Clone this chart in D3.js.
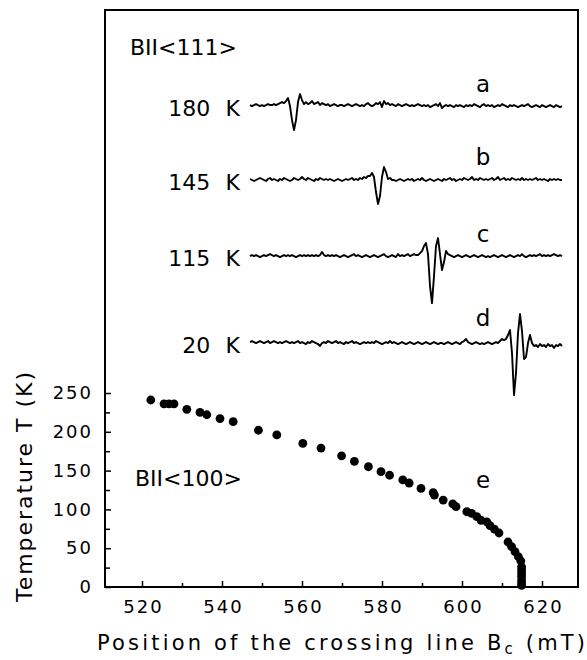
<!DOCTYPE html>
<html>
<head>
<meta charset="utf-8">
<script src="https://cdn.jsdelivr.net/npm/d3@7"></script>
<style>
  body { margin: 0; background: #fff; }
  text { font-family: "DejaVu Sans", sans-serif; fill: #000; }
</style>
</head>
<body>
<svg id="chart"></svg>
<script>
// Crossing line position Bc vs temperature (B || <100>)
const bcField = [522.2, 525.5, 526.75, 528, 531.2, 534.5, 536.2, 539.5, 542.8, 549.1,
    553.7, 560.2, 564.75, 569.9, 573.1, 576.6, 579.75, 581.9, 585.2, 586.8,
    589.75, 592.8, 593.1, 595.3, 597.7, 598.5, 601.2, 602.4, 603.7, 604.75,
    606.2, 607, 608.1, 609.25, 611.5, 612.4, 613.25, 614.1, 614.7, 614.9,
    614.9, 614.9, 614.9, 614.9, 614.9, 614.9];
const bcTemp = [241, 236, 236, 236, 229, 225, 222, 217, 213, 202,
    196, 185, 179, 169, 162, 155, 148.6, 144, 138, 134,
    127, 121.5, 118.5, 112, 107, 103.5, 97, 95, 90.6, 86,
    84, 79, 74.7, 69.6, 58, 52, 45.5, 39, 33.5, 26,
    22, 18, 14, 9, 5, 2];

// Spectra (B || <111>), signal in arb. units, sampled from 547 mT every 0.5 mT
const specStart = 547;
const specStep = 0.5;
const specTemps = ["180 K", "145 K", "115 K", "20 K"];
const specLetters = ["a", "b", "c", "d"];

const sigA = [1,0,1,2,1,0,1,0,1,2,1,1,2,1,2,3,4,3,
    5,8,0,-14,-24,-14,4,12,6,2,
    4,2,3,5,2,3,4,1,3,2,1,2,0,1,2,1,0,1,1,0,
    1,2,1,0,1,2,1,0,1,0,2,3,1,0,1,3,2,4,-1,5,
    2,3,1,2,1,0,2,1,0,1,2,1,0,1,0,1,2,1,0,1,
    0,1,-1,0,1,2,0,3,-2,0,1,0,1,0,-1,1,0,1,0,-1,
    1,0,1,0,2,1,0,-1,1,2,0,1,0,1,-1,0,1,0,2,1,
    0,-1,1,0,1,0,-1,0,1,0,1,2,0,-1,0,1,0,-1,1,0,
    -1,0,1,0,-1,1,0,-1,0];
const sigB = [1,0,-1,0,1,2,1,0,-1,1,2,0,1,0,-1,1,0,2,1,0,
    -1,0,2,1,0,1,3,1,0,2,1,0,-1,1,0,2,1,0,1,0,
    1,0,-1,0,1,0,-1,0,1,0,1,2,0,1,0,2,1,3,2,4,
    4,7,3,-12,-24,-16,3,13,8,1,2,0,0,-1,0,1,0,-1,0,1,
    0,1,-1,0,1,0,2,0,-1,0,1,0,-1,0,1,0,-1,1,0,1,
    2,0,1,-1,0,1,0,2,1,0,1,3,0,1,0,2,1,0,1,0,
    1,2,0,1,3,0,1,2,0,1,0,2,1,0,1,0,2,0,1,0,
    1,0,1,2,0,1,0,1,0,-1,1,0,1,0,1,0,0];
const sigC = [0,1,0,1,0,-1,0,1,0,1,2,1,0,1,0,-1,0,1,0,1,
    0,1,0,-1,0,1,0,1,0,1,0,1,0,1,0,1,4,1,0,1,
    0,1,0,1,0,-1,0,1,0,-1,0,1,2,0,1,0,-1,0,1,0,
    -1,0,1,0,-1,0,1,2,0,-1,0,1,0,-1,2,0,1,0,1,2,
    0,1,2,1,
    1,3,5,10,13,2,-30,-47,-20,10,18,2,-14,-6,5,2,1,
    0,-1,0,1,0,-1,0,1,0,-1,0,1,0,-1,0,1,0,-1,0,-1,
    0,1,0,-1,0,1,0,-1,0,1,0,-1,0,1,0,2,0,-1,0,1,
    0,1,0,1,2,0,1,0,1,0,1,2,1,0,1,0];
const sigD = [1,2,1,0,1,2,1,0,1,2,0,1,2,1,0,1,0,1,2,1,
    0,1,0,1,2,0,1,0,-1,1,0,2,1,0,-1,-3,0,1,0,2,
    1,0,1,2,0,1,0,-1,1,0,1,2,0,1,0,-1,0,1,0,1,
    0,1,0,2,1,0,-1,0,1,0,2,0,1,0,-1,0,1,0,-1,0,
    1,0,-1,0,1,0,-1,0,1,0,-1,0,1,0,-1,0,0,-1,0,1,
    0,-1,0,1,0,-1,1,2,4,1,0,-1,0,1,0,-1,0,-1,0,1,
    0,-1,0,1,0,2,4,3,
    4,8,13,-10,-52,-30,10,29,12,-16,-14,0,8,0,-3,
    -2,-4,-1,-3,-2,-4,-1,-3,-2,-5,-2,-3,-1,-3];
const spectra = [sigA, sigB, sigC, sigD];

const xMajor = [520, 540, 560, 580, 600, 620];
const xMinor = [530, 550, 570, 590, 610];
const yMajor = [0, 50, 100, 150, 200, 250];
const yMinor = [25, 75, 125, 175, 225];

// layout
const width = 587, height = 660;
const margin = {top: 10, right: 9, bottom: 73, left: 105};
const traceBase = [619.8, 524.5, 426.5, 314.4];   // baseline of each spectrum, in K units
const letterY = [638, 544, 444, 337];             // a-d letters, in K units
const tempLabelX = 544.5, letterX = 605.25;

const svg = d3.select("#chart")
    .attr("width", width)
    .attr("height", height);

const x = d3.scaleLinear()
    .domain([510.75, 629])
    .range([margin.left, width - margin.right]);

const y = d3.scaleLinear()
    .domain([0, 743.6])
    .range([height - margin.bottom, margin.top]);

// 1 signal unit = 1 px
const sig = d3.scaleLinear().domain([0, 1]).range([0, -1]);

// frame
svg.append("rect")
    .attr("x", margin.left)
    .attr("y", margin.top)
    .attr("width", width - margin.left - margin.right)
    .attr("height", height - margin.top - margin.bottom)
    .attr("fill", "none")
    .attr("stroke", "#000")
    .attr("stroke-width", 2);

// axes, ticks pointing inward
const xAxis = svg.append("g")
    .attr("transform", `translate(0,${height - margin.bottom})`)
    .call(d3.axisBottom(x).tickValues(xMajor).tickSize(-6).tickPadding(13).tickFormat(d3.format("d")));
svg.append("g")
    .attr("transform", `translate(0,${height - margin.bottom})`)
    .call(d3.axisBottom(x).tickValues(xMinor).tickSize(-4).tickFormat(""));

svg.append("g")
    .attr("transform", `translate(${margin.left},0)`)
    .call(d3.axisLeft(y).tickValues(yMajor).tickSize(-6).tickPadding(12).tickFormat(d3.format("d")));
svg.append("g")
    .attr("transform", `translate(${margin.left},0)`)
    .call(d3.axisLeft(y).tickValues(yMinor).tickSize(-5).tickFormat(""));

svg.selectAll(".domain").remove();
svg.selectAll(".tick line").attr("stroke", "#000").attr("stroke-width", 1.5);
svg.selectAll(".tick text")
    .style("font-family", "'DejaVu Sans', sans-serif")
    .style("font-size", "18px")
    .style("letter-spacing", "2px")
    .attr("fill", "#000");
xAxis.selectAll(".tick text").attr("dx", "1px");

// axis titles
const xTitle = svg.append("text")
    .attr("x", 97)
    .attr("y", 650)
    .attr("textLength", 488)
    .attr("lengthAdjust", "spacing")
    .style("font-size", "21px");
xTitle.append("tspan").text("Position of the crossing line B");
xTitle.append("tspan").attr("baseline-shift", "-25%").style("font-size", "15px").text("c");
xTitle.append("tspan").text(" (mT)");

svg.append("text")
    .attr("transform", `translate(32,${602}) rotate(-90)`)
    .attr("textLength", 230)
    .attr("lengthAdjust", "spacing")
    .style("font-size", "22px")
    .text("Temperature T (K)");

// spectra
const line = d3.line()
    .x((d, i) => x(specStart + i * specStep))
    .y(d => d);

spectra.forEach((s, k) => {
    svg.append("path")
        .datum(s.map(v => y(traceBase[k]) + sig(v)))
        .attr("fill", "none")
        .attr("stroke", "#000")
        .attr("stroke-width", 1.9)
        .attr("stroke-linejoin", "round")
        .attr("d", line);

    svg.append("text")
        .attr("x", x(tempLabelX))
        .attr("y", y(traceBase[k]) + 10)
        .attr("text-anchor", "end")
        .style("font-size", "22px")
        .text(specTemps[k].replace(" ", "\u2002\u2009"));

    svg.append("text")
        .attr("x", x(letterX))
        .attr("y", y(letterY[k]))
        .attr("text-anchor", "middle")
        .style("font-size", "23px")
        .text(specLetters[k]);
});

// Bc(T) points
svg.selectAll("circle")
    .data(bcField.map((b, i) => ({b: b, t: bcTemp[i]})))
    .enter()
    .append("circle")
    .attr("cx", d => x(d.b))
    .attr("cy", d => y(d.t))
    .attr("r", 4.4)
    .attr("fill", "#000");

// annotations
svg.append("text")
    .attr("x", x(517))
    .attr("y", y(685))
    .style("font-size", "22px")
    .text("BII<111>");

svg.append("text")
    .attr("x", x(518.25))
    .attr("y", y(130))
    .style("font-size", "22px")
    .text("BII<100>");

svg.append("text")
    .attr("x", x(letterX))
    .attr("y", y(127))
    .attr("text-anchor", "middle")
    .style("font-size", "23px")
    .text("e");
</script>
</body>
</html>
